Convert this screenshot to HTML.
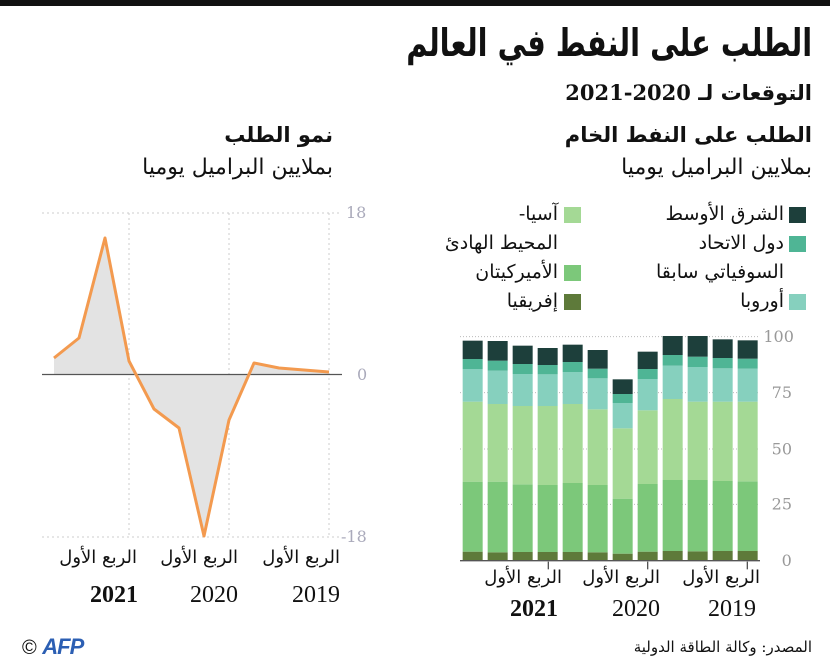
<!DOCTYPE html>
<html><head><meta charset="utf-8"><style>
body{margin:0;width:830px;height:671px;background:#fff;position:relative;overflow:hidden;font-family:"DejaVu Serif","DejaVu Sans",serif;color:#111}
.t{position:absolute;direction:rtl;white-space:nowrap;text-align:right}
.b{font-weight:bold}
.y{font-family:"Liberation Serif",serif;font-size:24px}
</style></head><body>
<div style="position:absolute;left:0;top:0;width:830px;height:6px;background:#111"></div>
<div class="t b" style="right:18px;top:18px;font-size:38px;line-height:50px;transform:scaleX(0.76);transform-origin:right center">الطلب على النفط في العالم</div>
<div class="t b" style="right:18px;top:78px;font-size:21px;line-height:30px">التوقعات لـ 2020-2021</div>
<div class="t b" style="right:18px;top:120px;font-size:21px;line-height:30px">الطلب على النفط الخام</div>
<div class="t" style="right:18px;top:152px;font-size:22px;line-height:32px">بملايين البراميل يوميا</div>
<div class="t b" style="right:497px;top:120px;font-size:21px;line-height:30px">نمو الطلب</div>
<div class="t" style="right:497px;top:152px;font-size:22px;line-height:32px">بملايين البراميل يوميا</div>

<div style="position:absolute;left:789px;top:207px;width:17px;height:16px;background:#1d3f3b"></div>
<div style="position:absolute;left:789px;top:236px;width:17px;height:16px;background:#4fb595"></div>
<div style="position:absolute;left:789px;top:294px;width:17px;height:16px;background:#86d0be"></div>
<div style="position:absolute;left:564px;top:207px;width:17px;height:16px;background:#a4d995"></div>
<div style="position:absolute;left:564px;top:265px;width:17px;height:16px;background:#7cc87a"></div>
<div style="position:absolute;left:564px;top:294px;width:17px;height:16px;background:#5e7a3a"></div>
<div class="t" style="right:46px;top:200px;font-size:19px;line-height:29px">الشرق الأوسط<br>دول الاتحاد<br>السوفياتي سابقا<br>أوروبا</div>
<div class="t" style="right:272px;top:200px;font-size:19px;line-height:29px">آسيا-<br>المحيط الهادئ<br>الأميركيتان<br>إفريقيا</div>

<svg style="position:absolute;left:440px;top:320px" width="390" height="260" viewBox="0 0 1170 780">
<g stroke="#bbb" stroke-width="3" stroke-dasharray="3 6">
<line x1="60" y1="50" x2="960" y2="50"/><line x1="60" y1="218" x2="960" y2="218"/><line x1="60" y1="387" x2="960" y2="387"/><line x1="60" y1="553" x2="960" y2="553"/></g>
<g id="bars"></g>
<line x1="60" y1="722" x2="960" y2="722" stroke="#555" stroke-width="4"/>
<g stroke="#555" stroke-width="4"><line x1="325" y1="725" x2="325" y2="748"/><line x1="623" y1="725" x2="623" y2="748"/><line x1="922" y1="725" x2="922" y2="748"/></g>
<g fill="#999" font-size="48" font-family="DejaVu Serif,serif">
<text x="970" y="66">100</text><text x="995" y="234">75</text><text x="995" y="403">50</text><text x="995" y="569">25</text><text x="1025" y="738">0</text></g>
</svg>
<div class="t" style="right:70px;top:567px;font-size:18px">الربع الأول</div>
<div class="t" style="right:170px;top:567px;font-size:18px">الربع الأول</div>
<div class="t" style="right:268px;top:567px;font-size:18px">الربع الأول</div>
<div class="t y" style="left:708px;top:596px">2019</div>
<div class="t y" style="left:612px;top:596px">2020</div>
<div class="t y b" style="left:510px;top:596px">2021</div>

<svg style="position:absolute;left:0;top:0" width="400" height="620">
<g stroke="#ccc" stroke-width="1" stroke-dasharray="2 3">
<line x1="42" y1="213" x2="342" y2="213"/><line x1="42" y1="537" x2="342" y2="537"/>
<line x1="129" y1="213" x2="129" y2="537"/><line x1="229" y1="213" x2="229" y2="537"/><line x1="329" y1="213" x2="329" y2="537"/></g>
<polygon fill="#e3e3e3" points="54,374 54,358 79,338 105,238 129,361 154,409 179,428 204,536 229,420 254,363 279,368 304,370 329,372 329,374"/>
<line x1="42" y1="374.5" x2="342" y2="374.5" stroke="#555" stroke-width="1.2"/>
<polyline fill="none" stroke="#f39a4f" stroke-width="3" stroke-linejoin="round" points="54,358 79,338 105,238 129,361 154,409 179,428 204,536 229,420 254,363 279,368 304,370 329,372"/>
<g fill="#aab" font-size="16" font-family="DejaVu Serif,serif"><text x="346" y="218">18</text><text x="357" y="380">0</text><text x="341" y="542">-18</text></g>
</svg>
<div class="t" style="right:490px;top:547px;font-size:18px">الربع الأول</div>
<div class="t" style="right:592px;top:547px;font-size:18px">الربع الأول</div>
<div class="t" style="right:693px;top:547px;font-size:18px">الربع الأول</div>
<div class="t y" style="left:292px;top:582px">2019</div>
<div class="t y" style="left:190px;top:582px">2020</div>
<div class="t y b" style="left:90px;top:582px">2021</div>

<div class="t" style="right:18px;top:638px;font-size:15px">المصدر: وكالة الطاقة الدولية</div>
<div style="position:absolute;left:22px;top:634px;font-size:20px;font-family:'Liberation Sans',sans-serif">© <b style="font-style:italic;font-size:22px;letter-spacing:-1px;color:#2c5fb3">AFP</b></div>

<script>
var xs=[68,143,218,293,368,443,518,593,668,743,818,893];
var d=[[695,485,245,147,117,62],[697,485,252,152,122,63],[696,493,258,162,132,77],[696,495,258,163,135,84],[696,489,252,156,126,74],[697,495,268,175,146,90],[701,536,325,249,222,178],[695,492,271,177,147,95],[693,480,237,137,105,48],[694,480,245,141,110,48],[693,483,245,145,114,58],[693,484,245,146,116,61]];
var c=["#5e7a3a","#7cc87a","#a4d995","#86d0be","#4fb595","#1d3f3b"];
var s="";
d.forEach(function(r,i){var b=722;r.forEach(function(t,j){s+='<rect x="'+xs[i]+'" y="'+t+'" width="60" height="'+(b-t)+'" fill="'+c[j]+'"/>';b=t;});});
document.getElementById("bars").innerHTML=s;
</script>
</body></html>
